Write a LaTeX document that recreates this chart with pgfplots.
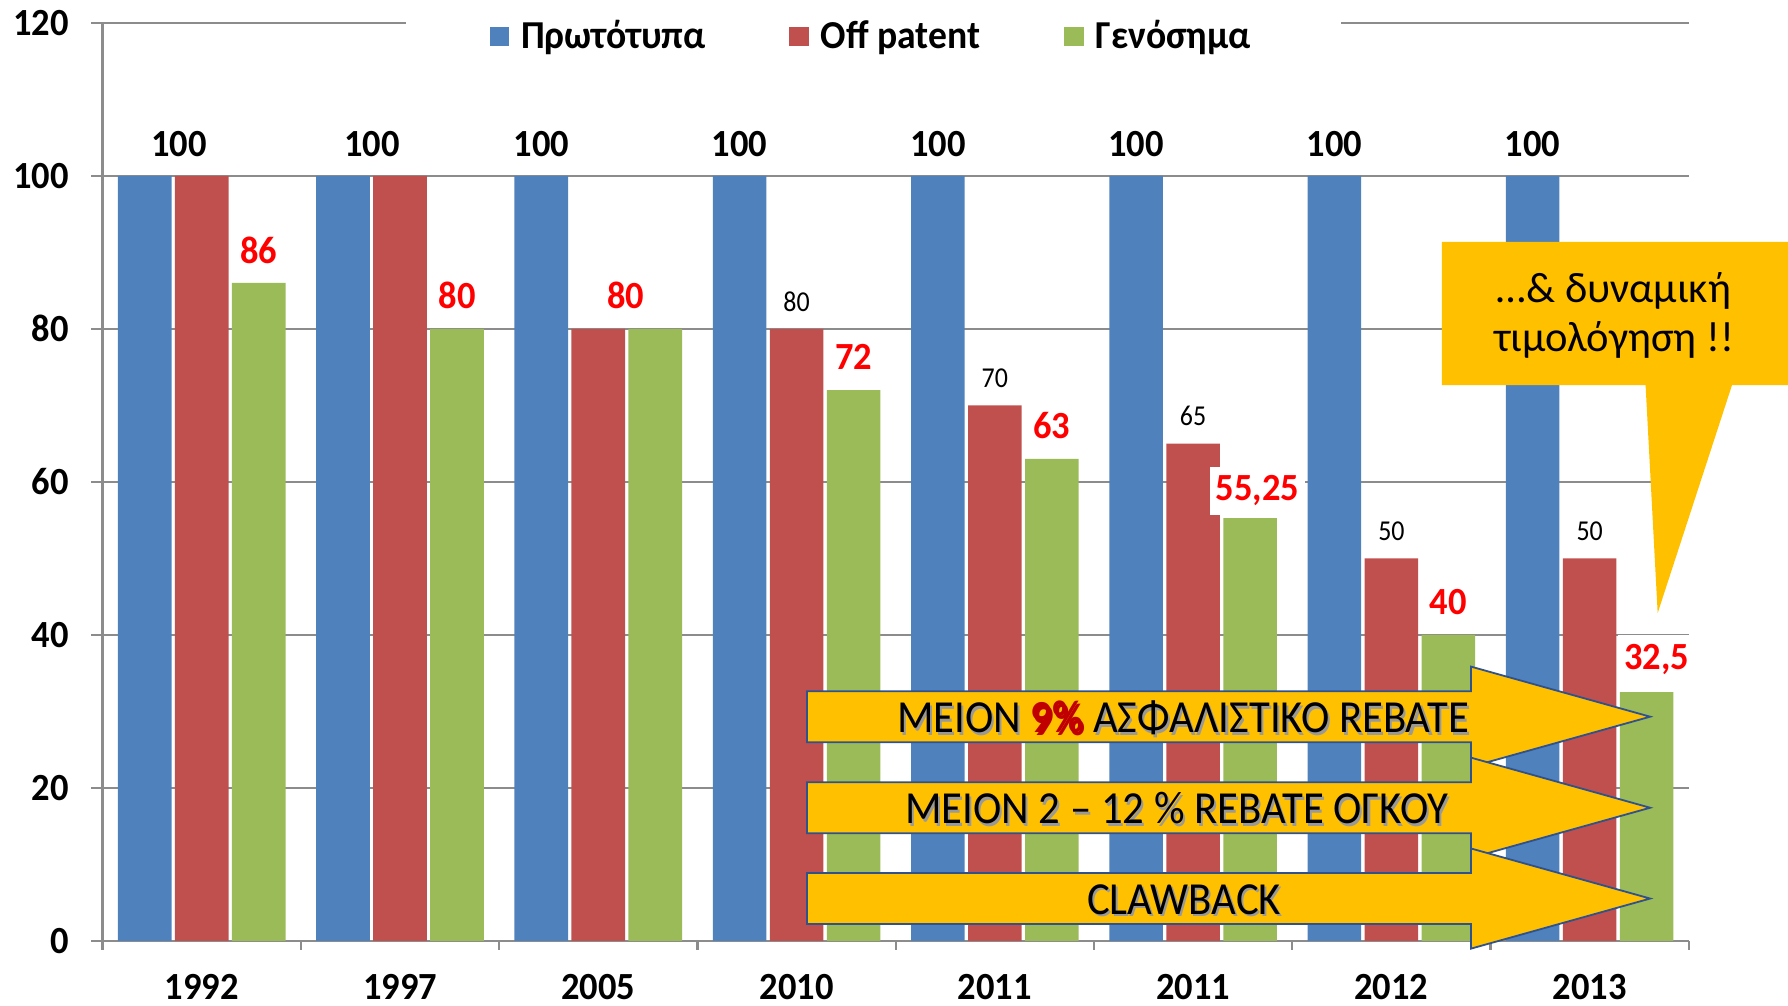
\documentclass[border=0pt]{standalone}
\usepackage{pgfplots}
\pgfplotsset{compat=1.18}
\usepackage{pgfplotstable}
\usepackage{fontspec}
\setmainfont{Carlito}
\newfontfamily\cond[FakeStretch=0.95]{Carlito}
\newfontfamily\condb[FakeStretch=0.93]{Carlito}
\newfontfamily\condc[FakeStretch=0.9]{Carlito}

\definecolor{cblue}{HTML}{4F81BD}
\definecolor{cred}{HTML}{C0504D}
\definecolor{cgreen}{HTML}{9BBB59}
\definecolor{gold}{HTML}{FFC000}
\definecolor{navy}{HTML}{2F528F}
\definecolor{gridgray}{HTML}{8C8C8C}
\definecolor{lblred}{HTML}{FF0000}
\definecolor{darkred}{HTML}{C00000}

% bdx, gdx: sideways shift of the labels, gy: height of the green label
\pgfplotstableread{
x blue red green rlab glab  bdx  gdx  gy
0 100  100 86    {}   86    11.4 0    11
1 100  100 80    {}   80    9.6  0    11
2 100  80  80    {}   80    0    -9.8 11
3 100  80  72    80   72    0    0    11
4 100  70  63    70   63    0    0    11
5 100  65  55.25 65   55,25 0    2.4  9.1
6 100  50  40    50   40    0    0    11
7 100  50  32.5  50   32,5  0    3.3  11
}\prices

\newcommand{\bigfont}{\cond\bfseries\fontsize{12.8}{15}\selectfont}
\newcommand{\legfont}{\cond\bfseries\fontsize{13.2}{15}\selectfont}
\newcommand{\arrowfont}{\condb\fontsize{15.3}{18}\selectfont}
\newcommand{\shtext}[2]{%
  \node[text=black!40] at ([xshift=0.7pt,yshift=-0.7pt]#1) {\arrowfont #2};
  \node at (#1) {\arrowfont #2};}

\begin{document}
\begin{tikzpicture}
\begin{axis}[
    name=ax,
    scale only axis,
    width=528.7pt, height=306pt,
    ybar=1.13pt, bar width=17.87pt,
    xmin=-0.5, xmax=7.5, ymin=0, ymax=120,
    enlargelimits=false,
    clip=false,
    axis lines=left,
    axis line style={gridgray, line width=0.75pt, -},
    ymajorgrids,
    grid style={gridgray, line width=0.75pt},
    ytick={0,20,...,120},
    xtick={0,...,7},
    xticklabels={1992,1997,2005,2010,2011,2011,2012,2013},
    minor xtick={-0.5,0.5,...,7.5},
    tick align=outside,
    major tick length=3.8pt,
    minor tick length=3pt,
    major x tick style={draw=none},
    tick style={gridgray, line width=0.75pt},
    /pgf/number format/assume math mode=true,
    ticklabel style={font=\bigfont},
    yticklabel style={xshift=-3.9pt},
    xticklabel style={anchor=center, yshift=-11.5pt},
    legend style={at={(0.1906,0.985)}, anchor=west, fill=white, draw=none,
      legend columns=-1, inner xsep=28pt, inner ysep=5pt, font=\legfont,
      /tikz/every odd column/.append style={column sep=2pt},
      /tikz/every even column/.append style={column sep=26pt}},
]
\addplot[fill=cblue, draw=none,
    legend image code/.code={\fill[cblue] (0pt,-3.25pt) rectangle (6.5pt,3.25pt);},
    nodes near coords, point meta=explicit symbolic,
    visualization depends on={\thisrow{bdx}\as\bdx},
    every node near coord/.append style={font=\bigfont, text=black, anchor=center,
      xshift=\bdx pt, yshift=10.7pt}]
    table[x=x, y=blue, meta=blue] {\prices};
\addlegendentry{Πρωτότυπα}
\addplot[fill=cred, draw=none,
    legend image code/.code={\fill[cred] (0pt,-3.25pt) rectangle (6.5pt,3.25pt);},
    nodes near coords, point meta=explicit symbolic,
    every node near coord/.append style={font=\condc\fontsize{9.6}{11}\selectfont,
      text=black, anchor=center, yshift=9.1pt}]
    table[x=x, y=red, meta=rlab] {\prices};
\addlegendentry{Off patent}
\addplot[fill=cgreen, draw=none,
    legend image code/.code={\fill[cgreen] (0pt,-3.25pt) rectangle (6.5pt,3.25pt);},
    nodes near coords, point meta=explicit symbolic,
    visualization depends on={\thisrow{gdx}\as\gdx},
    visualization depends on={\thisrow{gy}\as\gy},
    every node near coord/.append style={font=\bigfont, text=lblred, fill=white,
      inner xsep=2pt, inner ysep=3pt, anchor=center, xshift=\gdx pt, yshift=\gy pt}]
    table[x=x, y=green, meta=glab] {\prices};
\addlegendentry{Γενόσημα}

% block arrows
\draw[fill=gold, draw=navy, line width=0.6pt]
  (axis cs:3.053,25.97) -- (axis cs:6.401,25.97) -- (axis cs:6.401,22.75)
  -- (axis cs:7.305,29.3) -- (axis cs:6.401,35.85) -- (axis cs:6.401,32.63)
  -- (axis cs:3.053,32.63) -- cycle;
\draw[fill=gold, draw=navy, line width=0.6pt]
  (axis cs:3.053,14.07) -- (axis cs:6.401,14.07) -- (axis cs:6.401,10.85)
  -- (axis cs:7.305,17.4) -- (axis cs:6.401,23.95) -- (axis cs:6.401,20.73)
  -- (axis cs:3.053,20.73) -- cycle;
\draw[fill=gold, draw=navy, line width=0.6pt]
  (axis cs:3.053,2.2) -- (axis cs:6.401,2.2) -- (axis cs:6.401,-1.02)
  -- (axis cs:7.305,5.53) -- (axis cs:6.401,12.08) -- (axis cs:6.401,8.86)
  -- (axis cs:3.053,8.86) -- cycle;
\shtext{axis cs:4.949,29.1}{ΜΕΙΟΝ \textcolor{darkred}{\bfseries 9\%} ΑΣΦΑΛΙΣΤΙΚΟ REBATE}
\shtext{axis cs:4.917,17.3}{ΜΕΙΟΝ 2 – 12 \% REBATE ΟΓΚΟΥ}
\shtext{axis cs:4.954,5.34}{CLAWBACK}

% callout
\fill[gold] (axis cs:6.255,91.35) -- (axis cs:7.999,91.35) -- (axis cs:7.999,72.65)
  -- (axis cs:7.718,72.65) -- (axis cs:7.343,42.85) -- (axis cs:7.282,72.65)
  -- (axis cs:6.255,72.65) -- cycle;
\node[font=\fontsize{14.2}{17}\selectfont] at (axis cs:7.123,84.9) {…\& δυναμική};
\node[font=\fontsize{14.2}{17}\selectfont] at (axis cs:7.123,78.5) {τιμολόγηση !!};
\end{axis}
\pgfresetboundingbox
\path ([xshift=-34.2pt,yshift=-21.4pt]ax.south west) rectangle ([xshift=33.07pt,yshift=7.6pt]ax.north east);
\end{tikzpicture}
\end{document}
